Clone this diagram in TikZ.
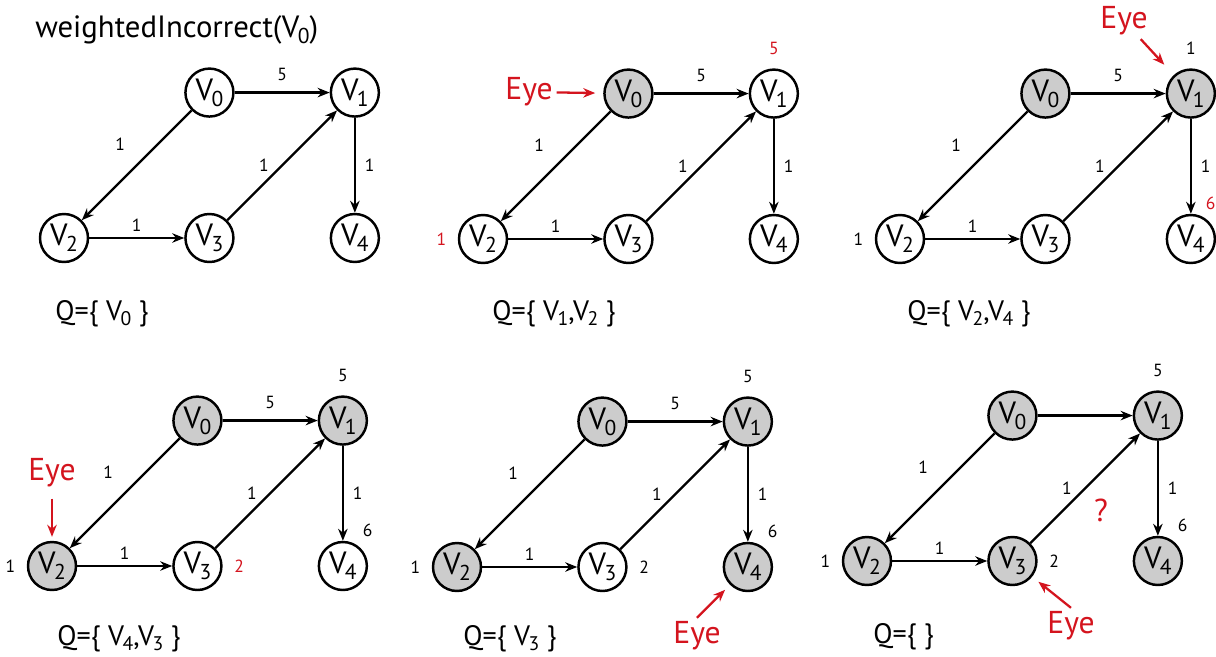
\documentclass[tikz,border=0pt]{standalone}
\usepackage{fontspec}
\setmainfont{PT Sans}
\usetikzlibrary{arrows.meta,positioning}
\definecolor{eyered}{RGB}{212,20,30}
\definecolor{seengray}{RGB}{204,204,204}
\newcommand{\vsub}[1]{V\kern-0.05em\raisebox{-0.2em}{\scalebox{0.7}{#1}}}
\tikzset{
  vtx/.style={circle, draw=black, line width=1.4pt, fill=white, minimum size=0.96cm,
              inner sep=0pt, font=\fontsize{17.5}{20}\selectfont},
  vtxseen/.style={vtx, fill=seengray},
  arrow/.style={-{Stealth[length=2.4mm,width=1.9mm]}, line width=1.3pt},
  arrowred/.style={-{Stealth[length=2.4mm,width=1.9mm]}, line width=1.3pt, eyered},
  wlabel/.style={font=\fontsize{10}{12}\selectfont, inner sep=2pt},
  dist/.style={font=\fontsize{10}{12}\selectfont, inner sep=1pt},
  distred/.style={dist, text=eyered},
  eye/.style={font=\fontsize{18}{20}\selectfont, text=eyered, inner sep=2pt},
  qset/.style={font=\fontsize{16}{19}\selectfont, anchor=base west, inner sep=0pt},
}
\begin{document}
\begin{tikzpicture}[x=0.02cm, y=-0.02cm, node distance=1.9cm]
\useasboundingbox (0,0) rectangle (1216,656);
\node[anchor=base west, inner sep=0pt, font=\fontsize{17.5}{20}\selectfont] (title) at (35,37) {weightedIncorrect(\vsub{0})};

% step 1
\node[vtx] (a2) at (64,238) {\vsub{2}};
\node[vtx, right=of a2] (a3) {\vsub{3}};
\node[vtx, right=of a3] (a4) {\vsub{4}};
\node[vtx, above=of a3] (a0) {\vsub{0}};
\node[vtx, above=of a4] (a1) {\vsub{1}};
\node[qset] (qa) at (55,320) {Q=\{ \vsub{0} \}};

% step 2
\node[vtx] (b2) at (483,239) {\vsub{2}};
\node[vtx, right=of b2] (b3) {\vsub{3}};
\node[vtx, right=of b3] (b4) {\vsub{4}};
\node[vtxseen, above=of b3] (b0) {\vsub{0}};
\node[vtx, above=of b4] (b1) {\vsub{1}};
\node[distred, above=0.23cm of b1] (db1) {5};
\node[distred, left=0.19cm of b2] (db2) {1};
\node[eye] (eyeb) at (529,92) {Eye};
\draw[arrowred, shorten >=0.16cm] (eyeb) -- (b0);
\node[qset] (qb) at (492,320) {Q=\{ \vsub{1},\vsub{2} \}};

% step 3
\node[vtx] (c2) at (900,239) {\vsub{2}};
\node[vtx, right=of c2] (c3) {\vsub{3}};
\node[vtx, right=of c3] (c4) {\vsub{4}};
\node[vtxseen, above=of c3] (c0) {\vsub{0}};
\node[vtxseen, above=of c4] (c1) {\vsub{1}};
\node[dist, above=0.23cm of c1] (dc1) {1};
\node[dist, left=0.19cm of c2] (dc2) {1};
\node[distred, above right=0.19cm and -0.1cm of c4] (dc4) {6};
\node[eye] (eyec) at (1124,21) {Eye};
\draw[arrowred, shorten >=0.28cm] (eyec) -- (c1);
\node[qset] (qc) at (907,320) {Q=\{ \vsub{2},\vsub{4} \}};

% step 4
\node[vtxseen] (d2) at (52,566) {\vsub{2}};
\node[vtx, right=of d2] (d3) {\vsub{3}};
\node[vtx, right=of d3] (d4) {\vsub{4}};
\node[vtxseen, above=of d3] (d0) {\vsub{0}};
\node[vtxseen, above=of d4] (d1) {\vsub{1}};
\node[dist, above=0.23cm of d1] (dd1) {5};
\node[dist, left=0.19cm of d2] (dd2) {1};
\node[distred, right=0.19cm of d3] (dd3) {2};
\node[dist, above right=0.19cm and 0cm of d4] (dd4) {6};
\node[eye] (eyed) at (52,473) {Eye};
\draw[arrowred, shorten <=0.15cm, shorten >=0.08cm] (eyed) -- (d2);
\node[qset] (qd) at (57,645) {Q=\{ \vsub{4},\vsub{3} \}};

% step 5
\node[vtxseen] (e2) at (457,567) {\vsub{2}};
\node[vtx, right=of e2] (e3) {\vsub{3}};
\node[vtxseen, right=of e3] (e4) {\vsub{4}};
\node[vtxseen, above=of e3] (e0) {\vsub{0}};
\node[vtxseen, above=of e4] (e1) {\vsub{1}};
\node[dist, above=0.23cm of e1] (de1) {5};
\node[dist, left=0.19cm of e2] (de2) {1};
\node[dist, right=0.19cm of e3] (de3) {2};
\node[dist, above right=0.19cm and 0cm of e4] (de4) {6};
\node[eye] (eyee) at (697,636) {Eye};
\draw[arrowred, shorten >=0.14cm] (eyee.north) -- (e4);
\node[qset] (qe) at (463,645) {Q=\{ \vsub{3} \}};

% step 6
\node[vtxseen] (f2) at (867,561) {\vsub{2}};
\node[vtxseen, right=of f2] (f3) {\vsub{3}};
\node[vtxseen, right=of f3] (f4) {\vsub{4}};
\node[vtxseen, above=of f3] (f0) {\vsub{0}};
\node[vtxseen, above=of f4] (f1) {\vsub{1}};
\node[dist, above=0.23cm of f1] (df1) {5};
\node[dist, left=0.19cm of f2] (df2) {1};
\node[dist, right=0.19cm of f3] (df3) {2};
\node[dist, above right=0.19cm and 0cm of f4] (df4) {6};
\node[eye] (eyef) at (1071,626) {Eye};
\draw[arrowred, shorten >=0.16cm] (eyef.north) -- (f3);
\node[eye] (qmark) at (1101,510) {?};
\node[qset] (qf) at (873,643) {Q=\{ \}};

% edges
\foreach \p in {a,b,c,d,e,f} {
  \draw[arrow] (\p0) -- (\p2) node[wlabel, midway, above left=6pt and 4pt] {1};
  \draw[arrow] (\p2) -- (\p3) node[wlabel, midway, above=1pt] {1};
  \draw[arrow] (\p3) -- (\p1) node[wlabel, midway, left=5pt] {1};
  \draw[arrow] (\p1) -- (\p4) node[wlabel, midway, right=3pt] {1};
}
\foreach \p in {a,b,c,d,e}
  \draw[arrow] (\p0) -- (\p1) node[wlabel, midway, above=4pt] {5};
\draw[arrow] (f0) -- (f1);
\end{tikzpicture}
\end{document}
